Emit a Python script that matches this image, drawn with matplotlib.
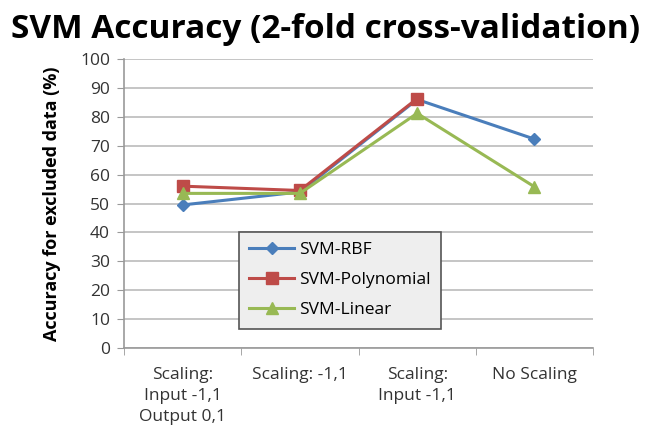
import numpy as np
import matplotlib.pyplot as plt

# data
categories = ["Scaling:\nInput -1,1\nOutput 0,1", "Scaling: -1,1",
              "Scaling:\nInput -1,1", "No Scaling"]
rbf = [49.5, 54.0, 86.0, 72.3]
poly = [56.0, 54.5, 86.3]
linear = [53.5, 53.5, 81.2, 55.8]

plt.rcParams['font.family'] = ['Open Sans', 'DejaVu Sans']

fig = plt.figure(figsize=(6.51, 4.33), dpi=100)
ax = fig.add_axes([124/651, 1 - 348/433, 469/651, 289/433])

x = np.arange(len(categories))
ax.plot(x, rbf, color='#4a7ebb', marker='D', markersize=6, linewidth=2.2, label='SVM-RBF', zorder=3)
ax.plot(x[:len(poly)], poly, color='#be4b48', marker='s', markersize=9, linewidth=2.2,
        label='SVM-Polynomial', zorder=4)
ax.plot(x, linear, color='#98b954', marker='^', markersize=9, linewidth=2.2,
        label='SVM-Linear', zorder=5)

ax.set_xlim(-0.5, len(categories) - 0.5)
ax.set_ylim(0, 100)
ax.set_yticks(range(0, 101, 10))
ax.tick_params(axis='y', labelsize=12.5, length=5, color='#999999', pad=5, labelcolor='#333333')
ax.set_xticks(x)
ax.set_xticklabels(categories, fontsize=12.5, linespacing=1.4, color='#333333')
ax.tick_params(axis='x', length=0, pad=14)
ax.set_xticks(np.arange(-0.5, len(categories), 1.0), minor=True)
ax.tick_params(axis='x', which='minor', length=5, color='#999999')

ax.grid(axis='y', color='#bbbbbb', linewidth=1.2)
ax.set_axisbelow(True)
for s in ['top', 'right']:
    ax.spines[s].set_visible(False)
for s in ['left', 'bottom']:
    ax.spines[s].set_color('#999999')
    ax.spines[s].set_linewidth(1.2)

ax.set_ylabel("Accuracy for excluded data (%)", fontsize=13, fontweight='bold', labelpad=14)

leg = ax.legend(loc='upper left', bbox_to_anchor=((230 - 124)/469, (348 - 223)/289),
                fontsize=12.5, frameon=True, fancybox=False, borderpad=0.6,
                labelspacing=0.8, handlelength=2.6, handletextpad=0.3)
leg.get_frame().set_facecolor('#eeeeee')
leg.get_frame().set_edgecolor('#555555')
leg.get_frame().set_linewidth(1.2)
leg.get_frame().set_alpha(1)

fig.text(0.5, 1 - 30/433, "SVM Accuracy (2-fold cross-validation)", ha='center', va='center',
         fontsize=24, fontweight='bold')

fig.savefig("out.png", dpi=100)
